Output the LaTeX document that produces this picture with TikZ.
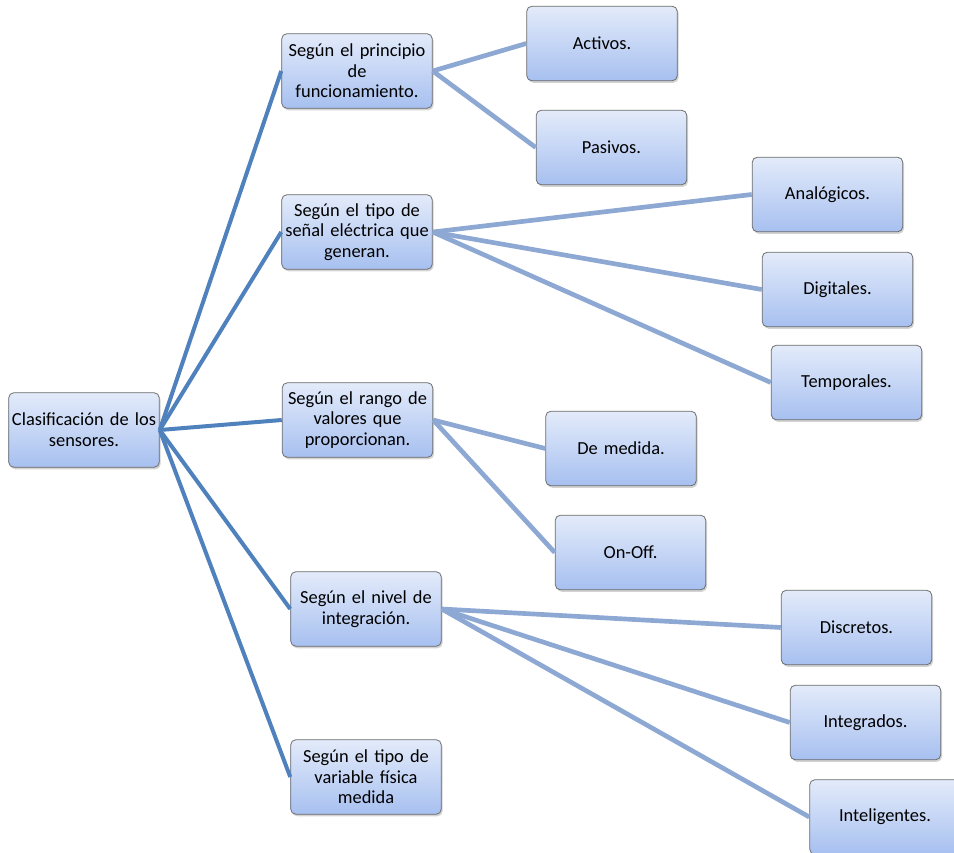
\documentclass[tikz,border=0pt]{standalone}
\usepackage{fontspec}
\setmainfont{Carlito}
\usetikzlibrary{shadows}
\definecolor{cajaarriba}{HTML}{E3EBFA}
\definecolor{cajaabajo}{HTML}{A7C0F0}
\definecolor{ramauno}{HTML}{4F81BD}
\definecolor{ramados}{HTML}{8DA8D3}
\begin{document}
\begin{tikzpicture}[x=0.75pt,y=-0.75pt,
        caja/.style={draw=gray!85!black, line width=0.6pt, rounded corners=4pt,
          top color=cajaarriba, bottom color=cajaabajo,
          minimum width=113pt, minimum height=56pt, text width=110pt, inner sep=1pt,
          align=center, font=\fontsize{13.8}{15.5}\selectfont,
          drop shadow={shadow xshift=1pt, shadow yshift=-1.5pt, opacity=0.35}},
        rama/.style={line width=3pt, ramauno},
        hoja/.style={line width=3.5pt, ramados}]
    \useasboundingbox (0,0) rectangle (954,853);
    % primer nivel
    \node[caja] (clasif) at (84,430) {Clasificación de los\\ sensores.};
    \node[caja] (principio) at (357,71) {Según el principio\\ de\\ funcionamiento.};
    \node[caja] (senal) at (357,232) {Según el tipo de\\ señal eléctrica que\\ generan.};
    \node[caja] (rango) at (357.5,420) {Según el rango de\\ valores que\\ proporcionan.};
    \node[caja] (nivel) at (366,609) {Según el nivel de\\ integración.};
    \node[caja] (variable) at (366,777) {Según el tipo de\\ variable física\\ medida};
    % segundo nivel
    \node[caja] (activos) at (602,43.5) {Activos.};
    \node[caja] (pasivos) at (611.5,147.5) {Pasivos.};
    \node[caja] (analog) at (827.5,194.5) {Analógicos.};
    \node[caja] (digital) at (837.5,289.5) {Digitales.};
    \node[caja] (temporal) at (846.5,382.5) {Temporales.};
    \node[caja] (medida) at (621,448.5) {De medida.};
    \node[caja] (onoff) at (630.5,552.5) {On-Off.};
    \node[caja] (discreto) at (856.5,627.5) {Discretos.};
    \node[caja] (integrado) at (865.5,722.5) {Integrados.};
    \node[caja] (intelig) at (885,817) {Inteligentes.};
    % conectores
    \foreach \n in {principio,senal,rango,nivel,variable}
      \draw[rama] (clasif.east) -- (\n.west);
    \foreach \a/\b in {principio/activos,principio/pasivos,senal/analog,senal/digital,
        senal/temporal,rango/medida,rango/onoff,nivel/discreto,nivel/integrado,nivel/intelig}
      \draw[hoja] (\a.east) -- (\b.west);
\end{tikzpicture}
\end{document}
